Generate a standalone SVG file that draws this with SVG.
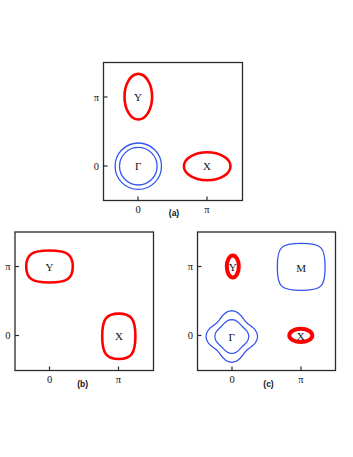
<svg xmlns="http://www.w3.org/2000/svg" width="353" height="457" viewBox="0 0 353 457">
<style>
.frame{fill:none;stroke:#2a2a2a;stroke-width:1.3}
.tick{stroke:#2a2a2a;stroke-width:1.2}
.red{fill:none;stroke:#ff0000;stroke-width:2.6}
.redthick{fill:none;stroke:#ff0000;stroke-width:4}
.blue{fill:none;stroke:#3355ee;stroke-width:1.3;stroke-linejoin:round}
.lab{font-family:"Liberation Serif","Times New Roman",serif;font-size:11px;fill:#111;text-anchor:middle}
.tl{font-family:"Liberation Serif","Times New Roman",serif;font-size:10.5px;fill:#111}
.tx{text-anchor:middle}
.ty{text-anchor:end}
.pl{font-family:"Liberation Sans",Arial,sans-serif;font-size:8.5px;font-weight:bold;fill:#111;text-anchor:middle}
</style>
<defs>
<polygon id="gOuter" points="26.3,0 25.7,3.38 24.05,6.44 21.71,8.99 19.14,11.05 16.72,12.83 14.64,14.64 12.83,16.72 11.05,19.14 8.99,21.71 6.44,24.05 3.38,25.7 0,26.3 -3.38,25.7 -6.44,24.05 -8.99,21.71 -11.05,19.14 -12.83,16.72 -14.64,14.64 -16.72,12.83 -19.14,11.05 -21.71,8.99 -24.05,6.44 -25.7,3.38 -26.3,0 -25.7,-3.38 -24.05,-6.44 -21.71,-8.99 -19.14,-11.05 -16.72,-12.83 -14.64,-14.64 -12.83,-16.72 -11.05,-19.14 -8.99,-21.71 -6.44,-24.05 -3.38,-25.7 0,-26.3 3.38,-25.7 6.44,-24.05 8.99,-21.71 11.05,-19.14 12.83,-16.72 14.64,-14.64 16.72,-12.83 19.14,-11.05 21.71,-8.99 24.05,-6.44 25.7,-3.38"/>
<polygon id="gInner" points="17.5,0 17.18,2.26 16.3,4.37 15.01,6.22 13.53,7.81 12.04,9.24 10.61,10.61 9.24,12.04 7.81,13.53 6.22,15.01 4.37,16.3 2.26,17.18 0,17.5 -2.26,17.18 -4.37,16.3 -6.22,15.01 -7.81,13.53 -9.24,12.04 -10.61,10.61 -12.04,9.24 -13.53,7.81 -15.01,6.22 -16.3,4.37 -17.18,2.26 -17.5,0 -17.18,-2.26 -16.3,-4.37 -15.01,-6.22 -13.53,-7.81 -12.04,-9.24 -10.61,-10.61 -9.24,-12.04 -7.81,-13.53 -6.22,-15.01 -4.37,-16.3 -2.26,-17.18 0,-17.5 2.26,-17.18 4.37,-16.3 6.22,-15.01 7.81,-13.53 9.24,-12.04 10.61,-10.61 12.04,-9.24 13.53,-7.81 15.01,-6.22 16.3,-4.37 17.18,-2.26"/>
</defs>
<rect width="353" height="457" fill="#fff"/>

<!-- Panel (a) -->
<g id="panel-a">
  <rect class="frame" x="103.5" y="62.5" width="139" height="138"/>
  <line class="tick" x1="138" y1="200.5" x2="138" y2="196.5"/>
  <line class="tick" x1="207" y1="200.5" x2="207" y2="196.5"/>
  <line class="tick" x1="103.5" y1="97" x2="107.5" y2="97"/>
  <line class="tick" x1="103.5" y1="166" x2="107.5" y2="166"/>
  <text class="tl tx" x="138" y="213">0</text>
  <text class="tl tx" x="207" y="213">π</text>
  <text class="tl ty" x="99" y="100.5">π</text>
  <text class="tl ty" x="99" y="169.5">0</text>
  <text class="pl" x="174" y="216">(a)</text>
  <g id="a-Y"><ellipse class="red" cx="138.3" cy="96.7" rx="13.8" ry="22.8"/><text class="lab" x="138" y="101">Y</text></g>
  <g id="a-X"><ellipse class="red" cx="207.2" cy="166.3" rx="23.3" ry="14"/><text class="lab" x="207" y="170">X</text></g>
  <g id="a-G"><circle class="blue" cx="138.3" cy="166.2" r="23.2"/><circle class="blue" cx="138.3" cy="166.2" r="18.8"/><text class="lab" x="138.3" y="170">Γ</text></g>
</g>

<!-- Panel (b) -->
<g id="panel-b">
  <rect class="frame" x="15" y="232" width="138.5" height="138.5"/>
  <line class="tick" x1="49.5" y1="370.5" x2="49.5" y2="366.5"/>
  <line class="tick" x1="118.5" y1="370.5" x2="118.5" y2="366.5"/>
  <line class="tick" x1="15" y1="266.5" x2="19" y2="266.5"/>
  <line class="tick" x1="15" y1="335.5" x2="19" y2="335.5"/>
  <text class="tl tx" x="49.5" y="382.5">0</text>
  <text class="tl tx" x="118.5" y="382.5">π</text>
  <text class="tl ty" x="10.5" y="270">π</text>
  <text class="tl ty" x="10.5" y="339">0</text>
  <text class="pl" x="82.7" y="386.5">(b)</text>
  <g id="b-Y"><path class="red" d="M72.8,266.5 C72.8,278.5 67,282.5 49.5,282.5 C32,282.5 26.2,278.5 26.2,266.5 C26.2,254.5 32,250.5 49.5,250.5 C67,250.5 72.8,254.5 72.8,266.5 Z"/><text class="lab" x="49.5" y="270.5">Y</text></g>
  <g id="b-X"><path class="red" d="M135.4,336.3 C135.4,353.3 131.25,359 118.8,359 C106.35,359 102.2,353.3 102.2,336.3 C102.2,319.3 106.35,313.6 118.8,313.6 C131.25,313.6 135.4,319.3 135.4,336.3 Z"/><text class="lab" x="119" y="340">X</text></g>
</g>

<!-- Panel (c) -->
<g id="panel-c">
  <rect class="frame" x="197.5" y="232" width="138" height="138.5"/>
  <line class="tick" x1="232" y1="370.5" x2="232" y2="366.5"/>
  <line class="tick" x1="301" y1="370.5" x2="301" y2="366.5"/>
  <line class="tick" x1="197.5" y1="266.5" x2="201.5" y2="266.5"/>
  <line class="tick" x1="197.5" y1="335.5" x2="201.5" y2="335.5"/>
  <text class="tl tx" x="232" y="382.5">0</text>
  <text class="tl tx" x="301" y="382.5">π</text>
  <text class="tl ty" x="193" y="270">π</text>
  <text class="tl ty" x="193" y="339">0</text>
  <text class="pl" x="268.5" y="386.5">(c)</text>
  <g id="c-Y"><ellipse class="redthick" cx="232.8" cy="266.4" rx="6" ry="11"/><text class="lab" x="232.8" y="270.5">Y</text></g>
  <g id="c-X"><ellipse class="redthick" cx="300.8" cy="335.4" rx="11.5" ry="6.7"/><text class="lab" x="300.8" y="339.5">X</text></g>
  <g id="c-M"><path class="blue" d="M325.1,266.9 C325.1,286.9 321.5,290.4 301.2,290.4 C280.9,290.4 277.3,286.9 277.3,266.9 C277.3,246.9 280.9,243.4 301.2,243.4 C321.5,243.4 325.1,246.9 325.1,266.9 Z"/><text class="lab" x="301.2" y="271.5">M</text></g>
  <g id="c-G">
    <use href="#gOuter" class="blue" transform="translate(231.8,336.5) scale(0.98)"/>
    <use href="#gInner" class="blue" transform="translate(231.8,336.5) scale(0.97)"/>
    <text class="lab" x="231.8" y="340.5">Γ</text>
  </g>
</g>
</svg>
